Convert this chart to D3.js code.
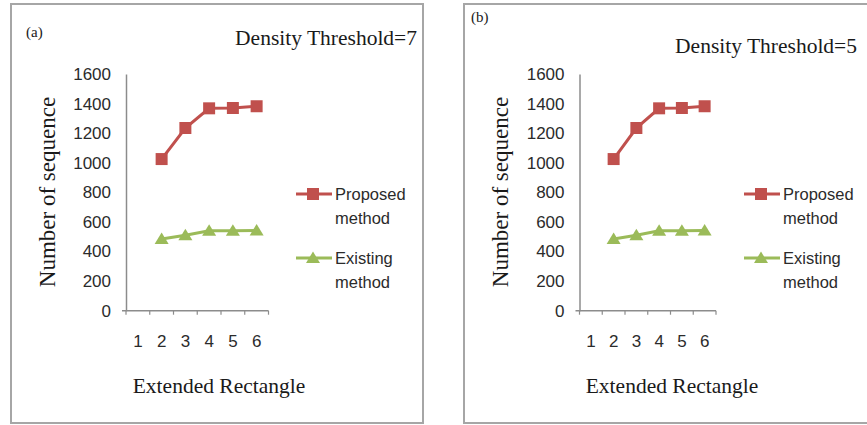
<!DOCTYPE html>
<html>
<head>
<meta charset="utf-8">
<script src="https://cdn.jsdelivr.net/npm/d3@7"></script>
<style>
  body { margin: 0; background: #fff; }
  text.serif { font-family: "Liberation Serif", "Times New Roman", serif; fill: #1a1a1a; }
  text.sans { font-family: "Liberation Sans", Arial, sans-serif; fill: #2b2b2b; }
</style>
</head>
<body>
<script>
var categories = [1, 2, 3, 4, 5, 6];
var yTicks = [0, 200, 400, 600, 800, 1000, 1200, 1400, 1600];

// panel (a), density threshold 7
var proposedA = [null, 1025, 1235, 1368, 1370, 1382];
var existingA = [null, 485, 510, 540, 540, 542];
// panel (b), density threshold 5
var proposedB = [null, 1025, 1235, 1368, 1370, 1382];
var existingB = [null, 485, 510, 540, 540, 542];

var seriesNames = ["Proposed", "Existing"];

var w = 867;
var h = 425;
var red = "#c0504d";
var green = "#9bbb59";
var square = "M-6,-6H6V6H-6Z";
var triangle = "M0,-6.5L7,5H-7Z";

var svg = d3.select("body").append("svg")
  .attr("width", w)
  .attr("height", h);

var panels = [
  { left: 11, width: 412, axisX: 126, xEnd: 268.5, legX: 296, tag: "(a)", tagX: 26, tagY: 37,
    title: "Density Threshold=7", titleX: 417, titleY: 45, titleCx: 219,
    data: [proposedA, existingA] },
  { left: 464, width: 420, axisX: 579.5, xEnd: 716, legX: 744, tag: "(b)", tagX: 471, tagY: 22,
    title: "Density Threshold=5", titleX: 857, titleY: 53, titleCx: 672,
    data: [proposedB, existingB] }
];

var y = d3.scaleLinear().domain([0, 1600]).range([310.7, 74]);

panels.forEach(function(p) {
  var g = svg.append("g");

  // frame
  g.append("rect")
    .attr("x", p.left)
    .attr("y", 4)
    .attr("width", p.width)
    .attr("height", 419)
    .style("fill", "none")
    .style("stroke", "#a6a6a6")
    .style("stroke-width", 2);

  var x = d3.scaleBand().domain(categories).range([p.axisX, p.xEnd]);

  // y axis
  var yAxis = d3.axisLeft(y).tickValues(yTicks).tickFormat(d3.format("d")).tickSize(0).tickPadding(15);
  var ya = g.append("g")
    .attr("transform", "translate(" + p.axisX + ",0)")
    .call(yAxis);
  ya.select(".domain").style("stroke", "#8c8c8c").style("stroke-width", 1.5);
  ya.selectAll("text")
    .attr("class", "sans")
    .style("font-size", "17px")
    .style("font-family", "'Liberation Sans', Arial, sans-serif")
    .style("fill", "#2b2b2b");

  // x axis: ticks on band boundaries
  var xa = g.append("g")
    .attr("transform", "translate(0," + y(0) + ")");
  xa.append("line")
    .attr("x1", p.axisX - 4)
    .attr("x2", p.xEnd)
    .attr("y1", 0)
    .attr("y2", 0)
    .style("stroke", "#8c8c8c")
    .style("stroke-width", 1.5);
  xa.selectAll("line.tk")
    .data(categories.concat([null]))
    .enter().append("line")
    .attr("class", "tk")
    .attr("x1", function(d, i) { return p.axisX + i * x.step(); })
    .attr("x2", function(d, i) { return p.axisX + i * x.step(); })
    .attr("y1", 0)
    .attr("y2", 4)
    .style("stroke", "#8c8c8c")
    .style("stroke-width", 1.2);
  xa.selectAll("text")
    .data(categories)
    .enter().append("text")
    .attr("class", "sans")
    .attr("x", function(d) { return x(d) + x.bandwidth() / 2; })
    .attr("y", 36.5)
    .attr("text-anchor", "middle")
    .style("font-size", "17px")
    .text(function(d) { return d; });

  // series
  var line = d3.line()
    .defined(function(d) { return d != null; })
    .x(function(d, i) { return x(categories[i]) + x.bandwidth() / 2; })
    .y(function(d) { return y(d); });

  var colors = [red, green];
  p.data.forEach(function(vals, s) {
    g.append("path")
      .datum(vals)
      .attr("d", line)
      .style("fill", "none")
      .style("stroke", colors[s])
      .style("stroke-width", 3);

    var pts = vals.map(function(v, i) { return { c: categories[i], v: v }; })
      .filter(function(d) { return d.v != null; });

    g.selectAll("path.m" + s)
      .data(pts)
      .enter().append("path")
      .attr("class", "m" + s)
      .attr("transform", function(d) {
        return "translate(" + (x(d.c) + x.bandwidth() / 2) + "," + y(d.v) + ")";
      })
      .attr("d", s == 0 ? square : triangle)
      .style("fill", colors[s]);
  });

  // legend
  var legY = [194, 258];
  seriesNames.forEach(function(name, s) {
    g.append("line")
      .attr("x1", p.legX)
      .attr("x2", p.legX + 36)
      .attr("y1", legY[s])
      .attr("y2", legY[s])
      .style("stroke", colors[s])
      .style("stroke-width", 3);
    g.append("path")
      .attr("transform", "translate(" + (p.legX + 17) + "," + legY[s] + ")")
      .attr("d", s == 0 ? square : triangle)
      .style("fill", colors[s]);
    var t = g.append("text")
      .attr("class", "sans")
      .attr("x", p.legX + 39)
      .attr("y", legY[s] + 6)
      .style("font-size", "16.5px");
    t.append("tspan").text(name);
    t.append("tspan")
      .attr("x", p.legX + 39)
      .attr("dy", 24)
      .text("method");
  });

  // titles
  g.append("text")
    .attr("class", "serif")
    .attr("x", p.tagX)
    .attr("y", p.tagY)
    .style("font-size", "15px")
    .text(p.tag);

  g.append("text")
    .attr("class", "serif")
    .attr("x", p.titleX)
    .attr("y", p.titleY)
    .attr("text-anchor", "end")
    .style("font-size", "21.5px")
    .text(p.title);

  g.append("text")
    .attr("class", "serif")
    .attr("transform", "translate(" + (p.left + 44) + ",192) rotate(-90)")
    .attr("text-anchor", "middle")
    .style("font-size", "23px")
    .text("Number of sequence");

  g.append("text")
    .attr("class", "serif")
    .attr("x", p.titleCx)
    .attr("y", 393)
    .attr("text-anchor", "middle")
    .style("font-size", "21.5px")
    .text("Extended Rectangle");
});
</script>
</body>
</html>
